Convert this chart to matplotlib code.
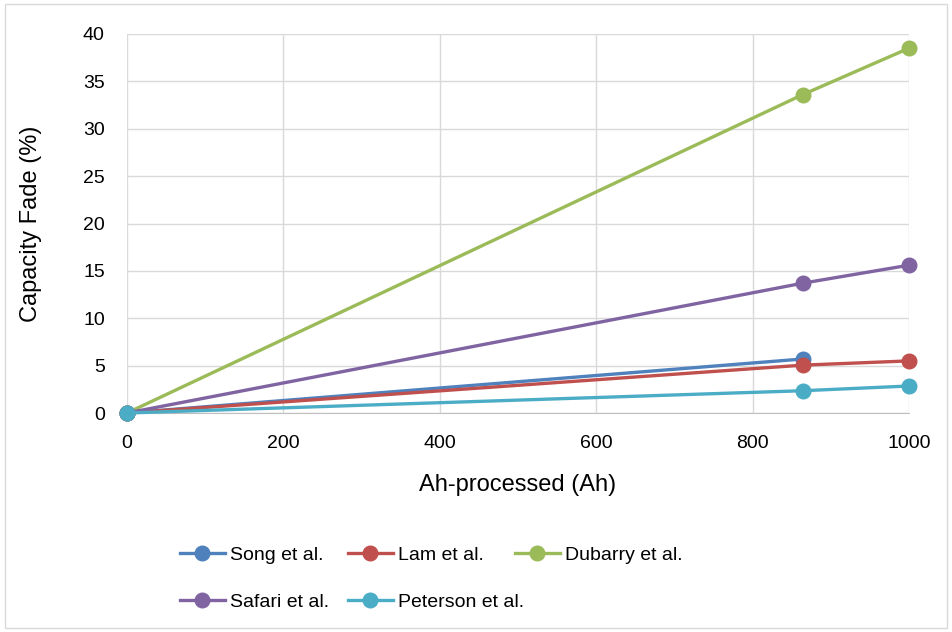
import matplotlib
matplotlib.use("Agg")
import matplotlib.pyplot as plt
from matplotlib.patches import Rectangle

plt.rcParams['font.family'] = ['Liberation Sans', 'DejaVu Sans']

x_song = [0, 864]
song = [0, 5.7]
x_other = [0, 864, 1000]
lam = [0, 5.05, 5.5]
dubarry = [0, 33.6, 38.5]
safari = [0, 13.7, 15.6]
peterson = [0, 2.35, 2.85]

colors = {
    'Song et al.': '#4F81BD',
    'Lam et al.': '#C0504D',
    'Dubarry et al.': '#9BBB59',
    'Safari et al.': '#8064A2',
    'Peterson et al.': '#4BACC6',
}

W, H = 952, 632
fig = plt.figure(figsize=(W/100, H/100), dpi=100)
fig.patches.append(Rectangle((5/W, 4/H), (W-10)/W, (H-8)/H, transform=fig.transFigure,
                             fill=False, edgecolor='#D9D9D9', linewidth=1))
ax = fig.add_axes([127/W, 1-413/H, (909-127)/W, (413-34)/H])

series = [
    ('Song et al.', x_song, song),
    ('Lam et al.', x_other, lam),
    ('Dubarry et al.', x_other, dubarry),
    ('Safari et al.', x_other, safari),
    ('Peterson et al.', x_other, peterson),
]
handles = {}
for name, xs, ys in series:
    h, = ax.plot(xs, ys, color=colors[name], linewidth=2.4, marker='o', markersize=10.5,
                 label=name, zorder=3, clip_on=False)
    handles[name] = h

ax.set_xlim(0, 1000)
ax.set_ylim(0, 40)
ax.set_xticks(range(0, 1001, 200))
ax.set_yticks(range(0, 41, 5))
ax.grid(True, color='#D9D9D9', linewidth=1)
ax.set_axisbelow(True)
for s in ['top', 'right', 'left']:
    ax.spines[s].set_visible(False)
ax.spines['bottom'].set_color('#BFBFBF')
ax.tick_params(axis='both', length=0, labelsize=14)
ax.tick_params(axis='y', pad=16)
ax.tick_params(axis='x', pad=16)
ax.set_xlabel('Ah-processed (Ah)', fontsize=17)
ax.set_ylabel('Capacity Fade (%)', fontsize=17)
ax.xaxis.set_label_coords(0.5, (413-474)/379)
ax.yaxis.set_label_coords((42-127)/782, 0.5)

# legend entries placed on Excel-like grid
legend_pos = {
    'Song et al.': (180, 555),
    'Lam et al.': (348, 555),
    'Dubarry et al.': (515, 555),
    'Safari et al.': (180, 602),
    'Peterson et al.': (348, 602),
}
for name, (px, py) in legend_pos.items():
    fig.legend([handles[name]], [name], loc='center left',
               bbox_to_anchor=(px/W, 1-py/H), frameon=False, fontsize=14,
               handlelength=2.3, handletextpad=0.25, borderpad=0, borderaxespad=0)

fig.savefig('out.png', dpi=100)
